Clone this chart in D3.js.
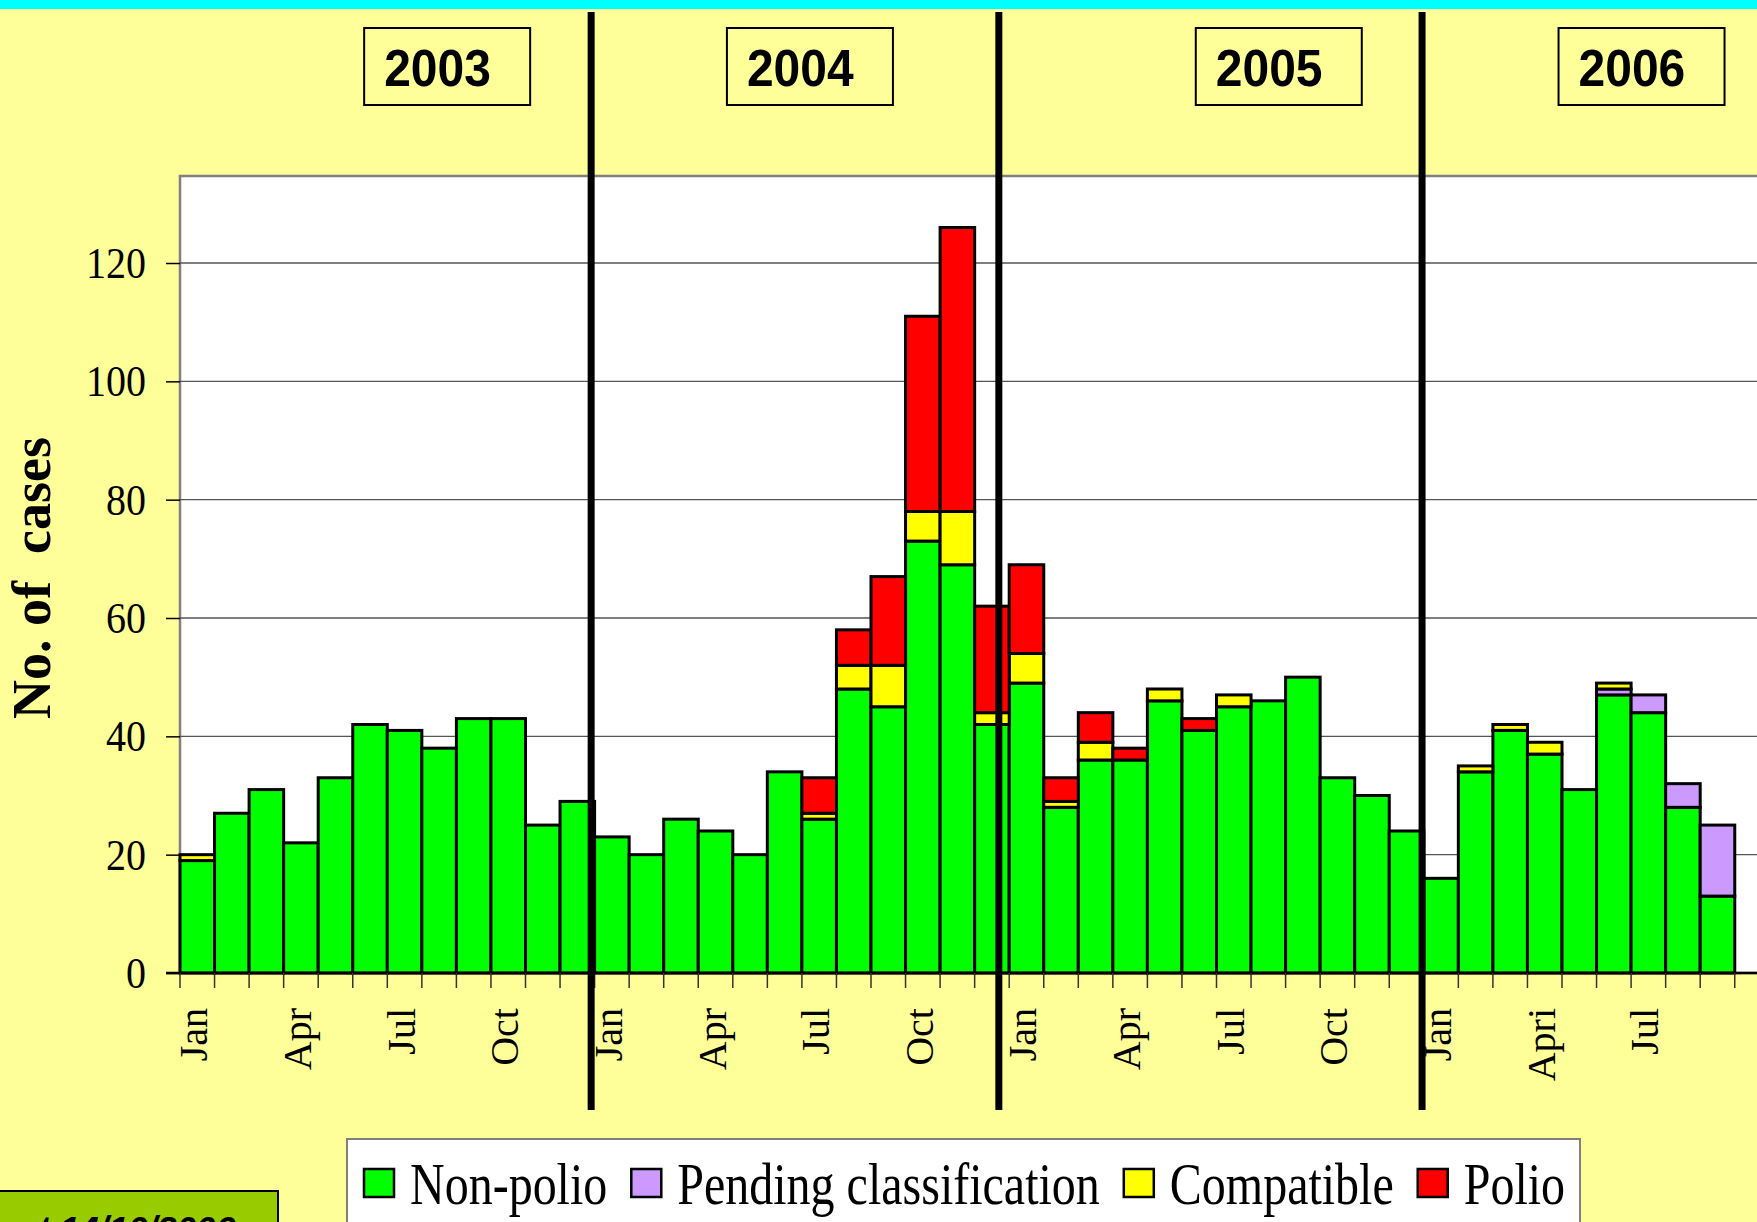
<!DOCTYPE html>
<html>
<head>
<meta charset="utf-8">
<script src="https://cdn.jsdelivr.net/npm/d3@7"></script>
<style>
  html, body { margin: 0; padding: 0; background: #FFFF99; overflow: hidden; }
  svg { display: block; }
</style>
</head>
<body>
<svg id="chart"></svg>
<script>
const years = ['2003', '2004', '2005', '2006'];
const monthNames = ['Jan', 'Feb', 'Mar', 'Apr', 'May', 'Jun', 'Jul', 'Aug', 'Sep', 'Oct', 'Nov', 'Dec'];

// the chart stops at Sep 2006
const months = years.flatMap(y => monthNames.map(m => `${m} ${y}`)).slice(0, 45);

const tickLabels = [
  'Jan', '', '', 'Apr', '', '', 'Jul', '', '', 'Oct', '', '',
  'Jan', '', '', 'Apr', '', '', 'Jul', '', '', 'Oct', '', '',
  'Jan', '', '', 'Apr', '', '', 'Jul', '', '', 'Oct', '', '',
  'Jan', '', '', 'Apri', '', '', 'Jul', '', ''
];

const nonPolio = [
  19, 27, 31, 22, 33, 42, 41, 38, 43, 43, 25, 29,
  23, 20, 26, 24, 20, 34, 26, 48, 45, 73, 69, 42,
  49, 28, 36, 36, 46, 41, 45, 46, 50, 33, 30, 24,
  16, 34, 41, 37, 31, 47, 44, 28, 13
];
const pending = [
  0, 0, 0, 0, 0, 0, 0, 0, 0, 0, 0, 0,
  0, 0, 0, 0, 0, 0, 0, 0, 0, 0, 0, 0,
  0, 0, 0, 0, 0, 0, 0, 0, 0, 0, 0, 0,
  0, 0, 0, 0, 0, 1, 3, 4, 12
];
const compatible = [
  1, 0, 0, 0, 0, 0, 0, 0, 0, 0, 0, 0,
  0, 0, 0, 0, 0, 0, 1, 4, 7, 5, 9, 2,
  5, 1, 3, 0, 2, 0, 2, 0, 0, 0, 0, 0,
  0, 1, 1, 2, 0, 1, 0, 0, 0
];
const polio = [
  0, 0, 0, 0, 0, 0, 0, 0, 0, 0, 0, 0,
  0, 0, 0, 0, 0, 0, 6, 6, 15, 33, 48, 18,
  15, 4, 5, 2, 0, 2, 0, 0, 0, 0, 0, 0,
  0, 0, 0, 0, 0, 0, 0, 0, 0
];

const seriesNames = ['Non-polio', 'Pending classification', 'Compatible', 'Polio'];
const yTicks = [0, 20, 40, 60, 80, 100, 120];

// layout (month units for things that sit over the time axis)
const W = 1757, H = 1222;
const plot = { left: 180, top: 176, zero: 973, y120: 263 };
const monthStep = 34.55;
const dividerAt = [11.9, 23.7, 35.95];
const yearBoxAt = [5.33, 15.83, 29.4, 39.9];
const colors = ['#00FF00', '#CC99FF', '#FFFF00', '#FF0000'];

const keys = ['nonPolio', 'pending', 'compatible', 'polio'];
const rows = months.map((m, i) => ({
  month: m,
  nonPolio: nonPolio[i],
  pending: pending[i],
  compatible: compatible[i],
  polio: polio[i]
}));

const svg = d3.select('#chart').attr('width', W).attr('height', H);

const x = d3.scaleBand()
  .domain(months)
  .range([plot.left, plot.left + months.length * monthStep])
  .padding(0);

const y = d3.scaleLinear()
  .domain([0, 120])
  .range([plot.zero, plot.y120]);

const monthX = v => x.range()[0] + v * x.step();

svg.append('rect').attr('width', W).attr('height', H).attr('fill', '#FFFF99');
svg.append('rect').attr('width', W).attr('height', 9).attr('fill', '#00FFFF');

// plot area
svg.append('rect')
  .attr('x', plot.left)
  .attr('y', plot.top)
  .attr('width', W - plot.left + 10)
  .attr('height', plot.zero - plot.top)
  .attr('fill', '#fff')
  .attr('stroke', '#808080')
  .attr('stroke-width', 2.5);

svg.append('g')
  .selectAll('line')
  .data(yTicks.filter(v => v > 0))
  .enter().append('line')
  .attr('x1', plot.left)
  .attr('x2', W)
  .attr('y1', d => y(d))
  .attr('y2', d => y(d))
  .attr('stroke', '#555')
  .attr('stroke-width', 1.3);

// stacked bars
const stacked = d3.stack().keys(keys)(rows);

stacked.forEach((layer, i) => {
  svg.append('g')
    .attr('class', `series-${i}`)
    .selectAll('rect')
    .data(layer.filter(d => d[1] - d[0] > 0))
    .enter().append('rect')
    .attr('x', d => x(d.data.month))
    .attr('width', x.bandwidth())
    .attr('y', d => y(d[1]))
    .attr('height', d => y(d[0]) - y(d[1]))
    .attr('fill', colors[i])
    .attr('stroke', '#000')
    .attr('stroke-width', 3);
});

// baseline + month boundary ticks
svg.append('line')
  .attr('x1', plot.left - 14).attr('x2', W)
  .attr('y1', plot.zero).attr('y2', plot.zero)
  .attr('stroke', '#000').attr('stroke-width', 2.5);

svg.append('g')
  .selectAll('line')
  .data(d3.range(months.length + 1))
  .enter().append('line')
  .attr('x1', d => monthX(d))
  .attr('x2', d => monthX(d))
  .attr('y1', plot.zero)
  .attr('y2', plot.zero + 15)
  .attr('stroke', '#333')
  .attr('stroke-width', 1.5);

// y axis
const yAxis = svg.append('g')
  .attr('transform', `translate(${plot.left},0)`)
  .call(d3.axisLeft(y).tickValues(yTicks).tickSize(14).tickPadding(20).tickSizeOuter(0));

yAxis.select('.domain').remove();
yAxis.selectAll('.tick line').attr('stroke', '#000').attr('stroke-width', 1.5);
yAxis.selectAll('.tick text')
  .attr('font-family', '"Liberation Serif", "Times New Roman", serif')
  .attr('font-size', 40)
  .attr('fill', '#000')
  .attr('dy', '0.33em')
  .attr('transform', 'scale(1,1.1)');

// x axis labels
const xAxis = svg.append('g')
  .attr('transform', `translate(0,${plot.zero})`)
  .call(d3.axisBottom(x).tickSize(0).tickFormat((d, i) => tickLabels[i]));

xAxis.select('.domain').remove();
xAxis.selectAll('.tick text')
  .attr('font-family', '"Liberation Serif", "Times New Roman", serif')
  .attr('font-size', 40)
  .attr('fill', '#000')
  .attr('text-anchor', 'end')
  .attr('y', 0)
  .attr('dy', '0.25em')
  .attr('transform', 'translate(0,35) rotate(-90)');

// y title
svg.append('text')
  .attr('transform', `translate(50,${(plot.zero + plot.y120) / 2 - 40}) rotate(-90)`)
  .attr('text-anchor', 'middle')
  .attr('font-family', '"Liberation Serif", "Times New Roman", serif')
  .attr('font-weight', 'bold')
  .attr('font-size', 54)
  .style('white-space', 'pre')
  .text('No. of  cases');

// year dividers
svg.append('g')
  .selectAll('line')
  .data(dividerAt)
  .enter().append('line')
  .attr('x1', d => monthX(d))
  .attr('x2', d => monthX(d))
  .attr('y1', 12)
  .attr('y2', 1110)
  .attr('stroke', '#000')
  .attr('stroke-width', 7);

// year boxes
const yearBox = svg.append('g')
  .selectAll('g')
  .data(years)
  .enter().append('g')
  .attr('transform', (d, i) => `translate(${monthX(yearBoxAt[i])},28)`);

yearBox.append('rect')
  .attr('width', 166)
  .attr('height', 77)
  .attr('fill', 'none')
  .attr('stroke', '#000')
  .attr('stroke-width', 2);

yearBox.append('text')
  .attr('transform', 'translate(20,58) scale(1,1.08)')
  .attr('font-family', '"Liberation Sans", Arial, sans-serif')
  .attr('font-weight', 'bold')
  .attr('font-size', 48)
  .text(d => d);

// legend
const legend = svg.append('g');
legend.append('rect')
  .attr('x', 347).attr('y', 1139)
  .attr('width', 1233).attr('height', 120)
  .attr('fill', '#fff')
  .attr('stroke', '#808080')
  .attr('stroke-width', 2);

let lx = 364;
seriesNames.forEach((name, i) => {
  legend.append('rect')
    .attr('x', lx).attr('y', 1169)
    .attr('width', 30).attr('height', 28)
    .attr('fill', colors[i])
    .attr('stroke', '#000')
    .attr('stroke-width', 2.5);
  const t = legend.append('text')
    .attr('transform', `translate(${lx + 46},1204) scale(1,1.22)`)
    .attr('font-family', '"Liberation Serif", "Times New Roman", serif')
    .attr('font-size', 48)
    .text(name);
  lx += 46 + t.node().getComputedTextLength() + 24;
});

// date stamp (mostly cut off by the page edge, as in the original)
svg.append('rect')
  .attr('x', -2).attr('y', 1191)
  .attr('width', 280).attr('height', 60)
  .attr('fill', '#99CC00')
  .attr('stroke', '#000')
  .attr('stroke-width', 2);

svg.append('text')
  .attr('x', 235).attr('y', 1241)
  .attr('text-anchor', 'end')
  .attr('font-family', '"Liberation Sans", Arial, sans-serif')
  .attr('font-weight', 'bold')
  .attr('font-style', 'italic')
  .attr('font-size', 35)
  .text('Data as at 14/10/2006');
</script>
</body>
</html>
